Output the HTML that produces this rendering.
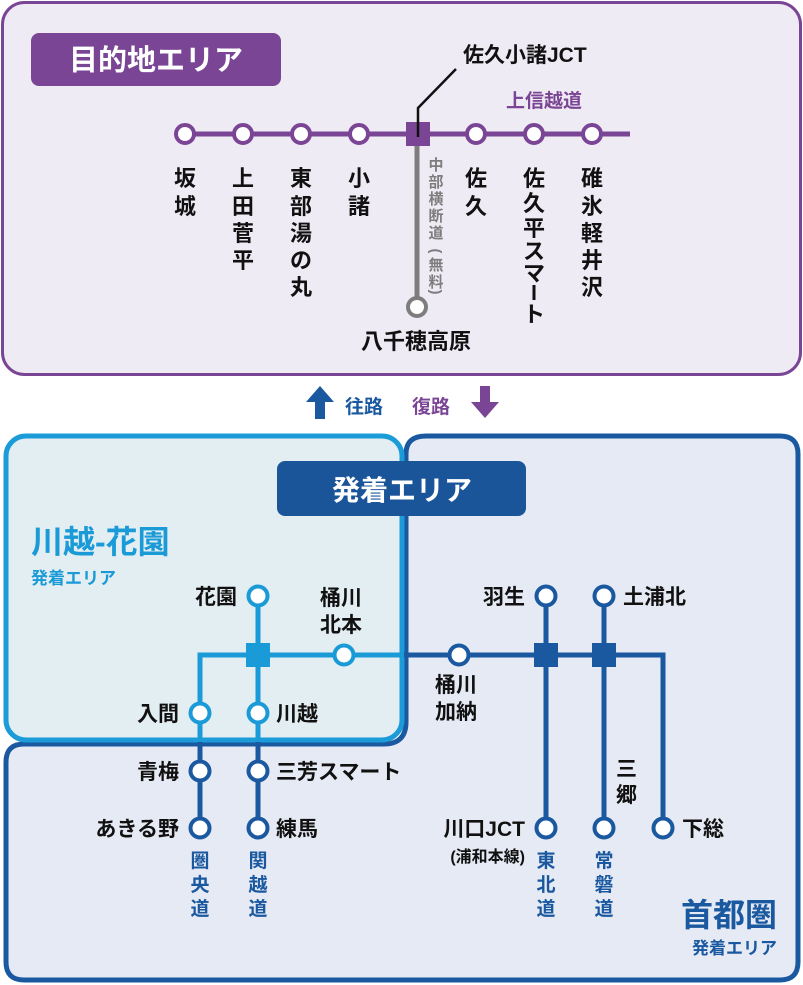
<!DOCTYPE html>
<html><head><meta charset="utf-8"><style>
html,body{margin:0;padding:0;background:#fff;}
svg{display:block;}
text{font-family:"Liberation Sans","Noto Sans CJK JP",sans-serif;font-weight:bold;}
</style></head><body>
<svg width="803" height="985" viewBox="0 0 803 985" xmlns="http://www.w3.org/2000/svg">
<!-- top box -->
<rect x="2.5" y="2.5" width="798" height="372" rx="22" fill="#efebf5" stroke="#7a4594" stroke-width="3"/>
<rect x="31" y="33" width="250" height="53" rx="8" fill="#7a4594"/>
<text x="156" y="70" font-size="29" fill="#fff" text-anchor="middle">目的地エリア</text>
<line x1="175" y1="134" x2="630" y2="134" stroke="#7a4594" stroke-width="5"/>
<line x1="417" y1="140" x2="417" y2="300" stroke="#7d7d7d" stroke-width="5"/>
<circle cx="417" cy="307" r="9" fill="#fff" stroke="#7d7d7d" stroke-width="4"/>
<g fill="#fff" stroke="#7a4594" stroke-width="4">
<circle cx="185" cy="134" r="9"/><circle cx="243" cy="134" r="9"/><circle cx="301" cy="134" r="9"/><circle cx="359" cy="134" r="9"/>
<circle cx="476" cy="134" r="9"/><circle cx="534" cy="134" r="9"/><circle cx="592" cy="134" r="9"/>
</g>
<rect x="406" y="122" width="24" height="24" fill="#7a4594"/>
<polyline points="418,137 418,108 456,69" fill="none" stroke="#111" stroke-width="2.5"/>
<text x="463" y="62" font-size="21" fill="#111">佐久小諸JCT</text>
<text x="506" y="107" font-size="19" fill="#7a4594">上信越道</text>
<g font-size="22" fill="#111" text-anchor="middle">
<text x="185" y="186">坂</text><text x="185" y="214">城</text>
<text x="243" y="186">上</text><text x="243" y="214">田</text><text x="243" y="241">菅</text><text x="243" y="268">平</text>
<text x="301" y="186">東</text><text x="301" y="214">部</text><text x="301" y="241">湯</text><text x="301" y="268">の</text><text x="301" y="295">丸</text>
<text x="359" y="186">小</text><text x="359" y="214">諸</text>
<text x="476" y="186">佐</text><text x="476" y="214">久</text>
<text x="534" y="186">佐</text><text x="534" y="211">久</text><text x="534" y="236">平</text><text x="534" y="259">ス</text><text x="534" y="281">マ</text>
<text x="534" y="322">ト</text>
<text x="592" y="186">碓</text><text x="592" y="214">氷</text><text x="592" y="241">軽</text><text x="592" y="268">井</text><text x="592" y="295">沢</text>
</g>
<line x1="534" y1="285" x2="534" y2="300" stroke="#111" stroke-width="3"/>
<g font-size="15" fill="#7d7d7d" text-anchor="middle">
<text x="436" y="170">中</text><text x="436" y="187">部</text><text x="436" y="204">横</text><text x="436" y="221">断</text><text x="436" y="238">道</text>
<text x="436" y="256" transform="rotate(90 436 251)">(</text>
<text x="436" y="270">無</text><text x="436" y="287">料</text>
<text x="436" y="297" transform="rotate(90 436 292)">)</text>
</g>
<text x="416" y="349" font-size="22" fill="#111" text-anchor="middle">八千穂高原</text>
<!-- arrows -->
<polygon points="320,386 334,402 325,402 325,419 315,419 315,402 306,402" fill="#1a58a0"/>
<text x="345" y="413" font-size="19" fill="#1a58a0">往路</text>
<text x="412" y="413" font-size="19" fill="#7a4594">復路</text>
<polygon points="485,418 499,402 490,402 490,386 480,386 480,402 471,402" fill="#7a4594"/>
<!-- bottom boxes -->
<path d="M426,436 H780 Q798,436 798,454 V962 Q798,980 780,980 H24 Q6,980 6,962 V762 Q6,744 24,744 H384 Q406,744 406,722 V454 Q406,436 426,436 Z" fill="#e6eaf4" stroke="#1a58a0" stroke-width="5"/>
<rect x="6" y="436" width="396" height="304" rx="20" fill="#e3eef3" stroke="#1b9bd7" stroke-width="5"/>
<rect x="277" y="461" width="249" height="55" rx="8" fill="#1a5499"/>
<text x="402" y="500" font-size="28" fill="#fff" text-anchor="middle">発着エリア</text>
<text x="31" y="553" font-size="32" fill="#1a9ad6">川越-花園</text>
<text x="31" y="584" font-size="17" fill="#1a9ad6">発着エリア</text>
<text x="777" y="926" font-size="32" fill="#1a58a0" text-anchor="end">首都圏</text>
<text x="777" y="954" font-size="17" fill="#1a58a0" text-anchor="end">発着エリア</text>
<!-- lines -->
<g fill="none" stroke-width="5">
<polyline points="404,655 200,655 200,742" stroke="#1a9ad6"/>
<line x1="258" y1="596" x2="258" y2="742" stroke="#1a9ad6"/>
<line x1="200" y1="742" x2="200" y2="828" stroke="#1a58a0"/>
<line x1="258" y1="742" x2="258" y2="828" stroke="#1a58a0"/>
<polyline points="404,655 663,655 663,828" stroke="#1a58a0"/>
<line x1="546" y1="596" x2="546" y2="828" stroke="#1a58a0"/>
<line x1="604" y1="596" x2="604" y2="828" stroke="#1a58a0"/>
</g>
<g fill="#fff" stroke-width="4">
<g stroke="#1a9ad6">
<circle cx="258" cy="596" r="9.5"/><circle cx="344" cy="655" r="9.5"/><circle cx="200" cy="713" r="9.5"/><circle cx="258" cy="713" r="9.5"/>
</g>
<g stroke="#1a58a0">
<circle cx="200" cy="771" r="9.5"/><circle cx="258" cy="771" r="9.5"/><circle cx="200" cy="828" r="9.5"/><circle cx="258" cy="828" r="9.5"/>
<circle cx="459" cy="655" r="9.5"/><circle cx="546" cy="596" r="9.5"/><circle cx="604" cy="596" r="9.5"/>
<circle cx="546" cy="828" r="9.5"/><circle cx="604" cy="828" r="9.5"/><circle cx="663" cy="828" r="9.5"/>
</g>
</g>
<rect x="246" y="643" width="24" height="24" fill="#1a9ad6"/>
<rect x="534" y="643" width="24" height="24" fill="#1a58a0"/>
<rect x="592" y="643" width="24" height="24" fill="#1a58a0"/>
<!-- station labels -->
<g font-size="21" fill="#111">
<text x="237" y="604" text-anchor="end">花園</text>
<text x="320" y="605">桶川</text><text x="320" y="632">北本</text>
<text x="179" y="721" text-anchor="end">入間</text>
<text x="276" y="721">川越</text>
<text x="179" y="779" text-anchor="end">青梅</text>
<text x="276" y="779">三芳スマート</text>
<text x="179" y="836" text-anchor="end">あきる野</text>
<text x="276" y="836">練馬</text>
<text x="435" y="692">桶川</text><text x="435" y="719">加納</text>
<text x="525" y="604" text-anchor="end">羽生</text>
<text x="623" y="604">土浦北</text>
<text x="525" y="836" text-anchor="end">川口JCT</text>
<text x="682" y="836">下総</text>
<text x="616" y="776">三</text><text x="616" y="802">郷</text>
</g>
<text x="525" y="862" font-size="16" fill="#111" text-anchor="end">(浦和本線)</text>
<g font-size="19" fill="#1a58a0" text-anchor="middle">
<text x="200" y="867">圏</text><text x="200" y="891">央</text><text x="200" y="915">道</text>
<text x="258" y="867">関</text><text x="258" y="891">越</text><text x="258" y="915">道</text>
<text x="546" y="867">東</text><text x="546" y="891">北</text><text x="546" y="915">道</text>
<text x="604" y="867">常</text><text x="604" y="891">磐</text><text x="604" y="915">道</text>
</g>
</svg>
</body></html>
